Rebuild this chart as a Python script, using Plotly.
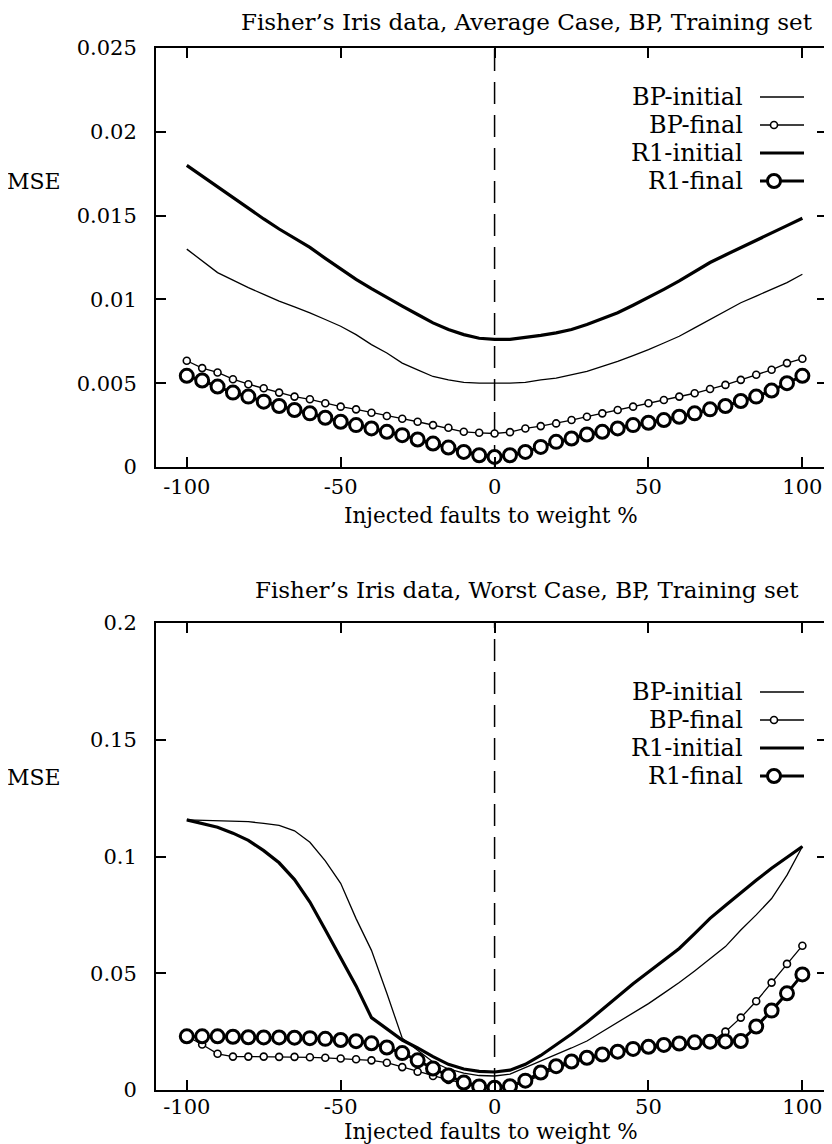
import plotly.graph_objects as go

# ---------------- data ----------------
fault_pct = list(range(-100, 105, 5))

avg_bp_initial = [0.0130, 0.0123, 0.0116, 0.01115, 0.0107, 0.0103, 0.0099, 0.00955, 0.0092, 0.0088,
                  0.0084, 0.0079, 0.0073, 0.0068, 0.0062, 0.0058, 0.0054, 0.0052, 0.00505, 0.0050,
                  0.0050,
                  0.0050, 0.00505, 0.0052, 0.0053, 0.0055, 0.0057, 0.0060, 0.0063, 0.00665, 0.0070,
                  0.0074, 0.0078, 0.0083, 0.0088, 0.0093, 0.0098, 0.0102, 0.0106, 0.0110, 0.0115]
avg_bp_final = [0.00634, 0.0059, 0.00564, 0.00524, 0.00494, 0.0047, 0.00444, 0.0042, 0.00404, 0.0038,
                0.0036, 0.00344, 0.00324, 0.00304, 0.00288, 0.0027, 0.0025, 0.00234, 0.0021, 0.00204,
                0.0020,
                0.00208, 0.0023, 0.00244, 0.0026, 0.0028, 0.0030, 0.0032, 0.0034, 0.0036, 0.0038,
                0.0040, 0.0042, 0.0044, 0.00465, 0.0049, 0.0052, 0.0055, 0.0058, 0.0062, 0.00646]
avg_r1_initial = [0.0180, 0.01735, 0.0167, 0.01605, 0.0154, 0.0148, 0.0142, 0.01365, 0.0131, 0.01245,
                  0.0118, 0.0112, 0.01064, 0.0101, 0.0096, 0.0091, 0.0086, 0.0082, 0.0079, 0.00768,
                  0.00762,
                  0.00762, 0.00772, 0.00785, 0.0080, 0.0082, 0.0085, 0.00885, 0.0092, 0.00965, 0.0101,
                  0.0106, 0.0111, 0.01165, 0.0122, 0.01265, 0.0131, 0.01355, 0.0140, 0.0144, 0.01484]
avg_r1_final = [0.00544, 0.00516, 0.0048, 0.00444, 0.0042, 0.0039, 0.00364, 0.0034, 0.0032, 0.00294,
                0.0027, 0.0025, 0.0023, 0.0021, 0.0019, 0.00164, 0.0014, 0.00116, 0.0009, 0.0007,
                0.0006,
                0.0007, 0.0009, 0.0012, 0.0015, 0.0017, 0.00194, 0.0021, 0.0023, 0.0025, 0.00264,
                0.0028, 0.0030, 0.0032, 0.00344, 0.00364, 0.00394, 0.0042, 0.00456, 0.0050, 0.00544]

worst_bp_initial = [0.1157, 0.1155, 0.1153, 0.1151, 0.1149, 0.1142, 0.1133, 0.1110, 0.1061, 0.0981,
                    0.0885, 0.0734, 0.0598, 0.0414, 0.0222, 0.0170, 0.0120, 0.0090, 0.0072, 0.0062,
                    0.0060,
                    0.0068, 0.0096, 0.0125, 0.0150, 0.0180, 0.0210, 0.0250, 0.0290, 0.0330, 0.0370,
                    0.0415, 0.0460, 0.0510, 0.0560, 0.0614, 0.0685, 0.0750, 0.0820, 0.0920, 0.1043]
worst_bp_final = [0.0230, 0.0195, 0.0155, 0.0143, 0.0143, 0.0143, 0.0142, 0.0142, 0.0140, 0.0138,
                  0.0135, 0.0132, 0.0127, 0.0117, 0.0098, 0.0078, 0.0060, 0.0043, 0.0029, 0.0015,
                  0.0010,
                  0.0015, 0.0033, 0.0065, 0.0092, 0.0115, 0.0133, 0.0148, 0.0160, 0.0170, 0.0178,
                  0.0185, 0.0191, 0.0196, 0.0200, 0.0250, 0.0310, 0.0380, 0.0460, 0.0540, 0.0618]
worst_r1_initial = [0.1157, 0.1142, 0.1125, 0.1100, 0.1069, 0.1025, 0.0973, 0.0901, 0.0805, 0.0686,
                    0.0566, 0.0446, 0.0310, 0.0262, 0.0214, 0.0180, 0.0143, 0.0110, 0.0090, 0.0080,
                    0.0077,
                    0.0085, 0.0110, 0.0148, 0.0192, 0.0240, 0.0290, 0.0345, 0.0400, 0.0455, 0.0505,
                    0.0556, 0.0606, 0.0670, 0.0735, 0.0790, 0.0845, 0.0898, 0.0950, 0.0998, 0.1043]
worst_r1_final = [0.0230, 0.0230, 0.0230, 0.0228, 0.0226, 0.0225, 0.0225, 0.0224, 0.0222, 0.0219,
                  0.0214, 0.0209, 0.0200, 0.0182, 0.0158, 0.0127, 0.0092, 0.0062, 0.0032, 0.0015,
                  0.0010,
                  0.0016, 0.0040, 0.0075, 0.0102, 0.0122, 0.0138, 0.0152, 0.0164, 0.0176, 0.0185,
                  0.0193, 0.0199, 0.0204, 0.0207, 0.0208, 0.0210, 0.0272, 0.0340, 0.0414, 0.0495]

series_names = ["BP-initial", "BP-final", "R1-initial", "R1-final"]
panel_titles = ["Fisher\u2019s Iris data, Average Case, BP, Training set",
                "Fisher\u2019s Iris data, Worst Case, BP, Training set"]
x_title = "Injected faults to weight %"
y_title = "MSE"
x_tickvals = [-100, -50, 0, 50, 100]
x_ticktext = ["-100", "-50", "0", "50", "100"]
avg_y_tickvals = [0, 0.005, 0.01, 0.015, 0.02, 0.025]
avg_y_ticktext = ["0", "0.005", "0.01", "0.015", "0.02", "0.025"]
worst_y_tickvals = [0, 0.05, 0.1, 0.15, 0.2]
worst_y_ticktext = ["0", "0.05", "0.1", "0.15", "0.2"]

# ---------------- layout / styles ----------------
PAGE_W, PAGE_H = 832, 1144
OFF = 8                      # page body margin
W, H = PAGE_W - OFF, PAGE_H - OFF
FONT = "DejaVu Serif"
FS_TICK, FS_TITLE, FS_XTITLE, FS_LEG, FS_MSE = 21, 23, 21.5, 24, 22

def px(xp):
    return (xp - OFF) / W

def py(yp):
    return 1 - (yp - OFF) / H

styles = {
    "BP-initial": dict(mode="lines", line=dict(color="black", width=1.3)),
    "BP-final": dict(mode="lines+markers", line=dict(color="black", width=1.3),
                     marker=dict(symbol="circle", size=7, color="white",
                                 line=dict(color="black", width=1.6))),
    "R1-initial": dict(mode="lines", line=dict(color="black", width=3.2)),
    "R1-final": dict(mode="lines+markers", line=dict(color="black", width=3),
                     marker=dict(symbol="circle", size=13, color="white",
                                 line=dict(color="black", width=3))),
}

panels = [
    dict(data=[avg_bp_initial, avg_bp_final, avg_r1_initial, avg_r1_final],
         top=48, bottom=467, yrange=[0, 0.025], tv=avg_y_tickvals, tt=avg_y_ticktext,
         title_y=22, xtitle_y=515, mse_y=181, legend_y=[97, 125, 153, 181], xstand=0),
    dict(data=[worst_bp_initial, worst_bp_final, worst_r1_initial, worst_r1_final],
         top=623, bottom=1090, yrange=[0, 0.2], tv=worst_y_tickvals, tt=worst_y_ticktext,
         title_y=590, xtitle_y=1131, mse_y=777, legend_y=[692, 720, 748, 776], xstand=-3),
]

fig = go.Figure()
annotations = []
shapes = []
x_dom = [px(156), px(827)]

def label(text, x, y, size, xanchor="center"):
    return dict(text=text, xref="paper", yref="paper", x=x, y=y, showarrow=False,
                xanchor=xanchor, yanchor="middle",
                font=dict(family=FONT, size=size, color="black"))

for i, p in enumerate(panels):
    suffix = "" if i == 0 else str(i + 1)
    xa, ya = "x" + suffix, "y" + suffix
    for name, vals in zip(series_names, p["data"]):
        fig.add_trace(go.Scatter(x=fault_pct, y=vals, name=name, xaxis=xa, yaxis=ya,
                                 showlegend=False, **styles[name]))
    axis_common = dict(showline=True, linewidth=2, linecolor="black", mirror="ticks",
                       ticks="inside", ticklen=10, tickwidth=1.5, tickcolor="black",
                       showgrid=False, zeroline=False, automargin=False,
                       tickfont=dict(family=FONT, size=FS_TICK, color="black"))
    fig.update_layout(**{
        "xaxis" + suffix: dict(domain=x_dom, range=[-110, 108], anchor=ya,
                               tickvals=x_tickvals, ticktext=x_ticktext,
                               ticklabelstandoff=p["xstand"], **axis_common),
        "yaxis" + suffix: dict(domain=[py(p["bottom"]), py(p["top"])], range=p["yrange"],
                               anchor=xa, tickvals=p["tv"], ticktext=p["tt"],
                               ticklabelstandoff=13, **axis_common),
    })
    # dashed vertical reference at 0
    shapes.append(dict(type="line", xref=xa, yref=ya + " domain", x0=0, x1=0, y0=0, y1=1,
                       line=dict(color="black", width=1.5, dash="22px,11px"), layer="below"))
    annotations.append(label(panel_titles[i], px(527), py(p["title_y"]), FS_TITLE))
    annotations.append(label(x_title, px(491), py(p["xtitle_y"]), FS_XTITLE))
    annotations.append(label(y_title, px(34), py(p["mse_y"]), FS_MSE))
    # legend (text on left, key on right)
    for name, ly in zip(series_names, p["legend_y"]):
        annotations.append(label(name, px(745), py(ly), FS_LEG, xanchor="right"))
        st = styles[name]
        shapes.append(dict(type="line", xref="paper", yref="paper", x0=px(760), x1=px(804),
                           y0=py(ly), y1=py(ly), line=dict(color="black", width=st["line"]["width"])))
        if "marker" in st:
            r = st["marker"]["size"] / 2
            shapes.append(dict(type="circle", xref="paper", yref="paper",
                               xsizemode="pixel", ysizemode="pixel",
                               xanchor=px(774), yanchor=py(ly), x0=-r, x1=r, y0=-r, y1=r,
                               fillcolor="white",
                               line=dict(color="black", width=st["marker"]["line"]["width"])))

fig.update_layout(width=W, height=H, margin=dict(l=0, r=0, t=0, b=0, pad=0, autoexpand=False),
                  paper_bgcolor="white", plot_bgcolor="white",
                  annotations=annotations, shapes=shapes, showlegend=False)

fig.write_html("out.html")
